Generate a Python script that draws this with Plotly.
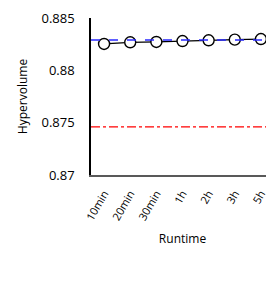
import plotly.graph_objects as go

categories = ["10min", "20min", "30min", "1h", "2h", "3h", "5h"]
hypervolume = [0.88252, 0.88268, 0.88271, 0.88280, 0.88287, 0.88293, 0.88299]
blue_ref = 0.8829
red_ref = 0.8746
y_ticks = [0.87, 0.875, 0.88, 0.885]
y_tick_labels = ["0.87", "0.875", "0.88", "0.885"]

font = "Open Sans"

fig = go.Figure()
fig.add_trace(go.Scatter(x=[-0.5, 6.5], y=[blue_ref, blue_ref], mode="lines",
                         line=dict(color="#2a2aff", width=1.4, dash="dash"),
                         xaxis="x2", showlegend=False))
fig.add_trace(go.Scatter(x=[-0.5, 6.5], y=[red_ref, red_ref], mode="lines",
                         line=dict(color="#ff0000", width=1.3, dash="dashdot"),
                         xaxis="x2", showlegend=False))
fig.add_trace(go.Scatter(x=categories, y=hypervolume, mode="lines+markers",
                         line=dict(color="black", width=1.2),
                         marker=dict(size=11, color="white", line=dict(color="black", width=1.4)),
                         showlegend=False))

fig.update_layout(
    width=266, height=269,
    margin=dict(l=83, r=0, t=10, b=102),
    plot_bgcolor="white", paper_bgcolor="white",
    font=dict(family=font, size=12, color="black"),
    xaxis=dict(type="category", range=[-0.5, 6.5], showgrid=False, zeroline=False,
               showline=True, linecolor="#595959", linewidth=2, ticks="",
               tickangle=-60, tickfont=dict(size=11), automargin=False,
               ticklabelstandoff=6,
               title=dict(text="Runtime", font=dict(size=12), standoff=13)),
    xaxis2=dict(overlaying="x", range=[-0.5, 6.5], visible=False),
    yaxis=dict(range=[0.87, 0.885], tickvals=y_ticks, ticktext=y_tick_labels,
               showgrid=False, zeroline=False, showline=True, linecolor="black",
               linewidth=1.5, ticks="", tickfont=dict(size=13), automargin=False,
               ticklabelstandoff=12,
               title=dict(text="Hypervolume", font=dict(size=12), standoff=11)),
)

fig.write_html("out.html")
